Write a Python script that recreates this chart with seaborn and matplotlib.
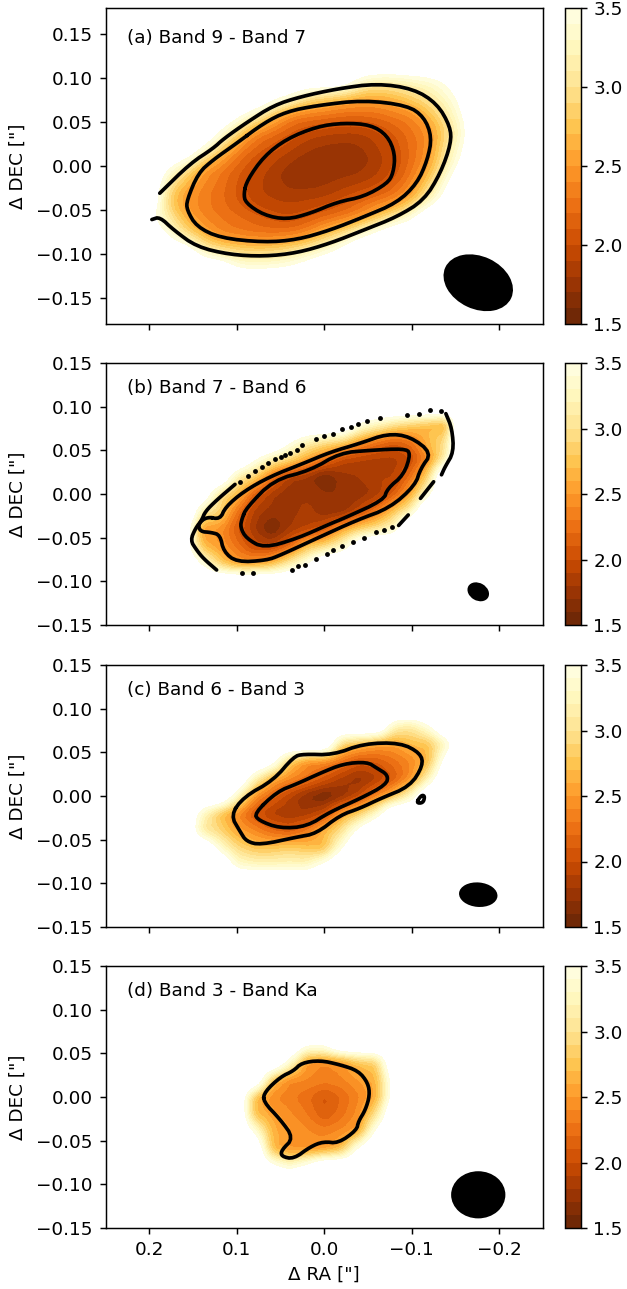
import numpy as np
import matplotlib
matplotlib.use("Agg")
import matplotlib.pyplot as plt
from matplotlib.patches import Ellipse
import seaborn as sns

O = 4.2  # pixels outside the map (above the colour range)

ra_a = [0.20, 0.18, 0.16, 0.14, 0.12, 0.10, 0.08, 0.06, 0.04, 0.02, 0.00, -0.02, -0.04, -0.06, -0.08, -0.10, -0.12, -0.14, -0.16]
dec_a = [0.10, 0.08, 0.06, 0.04, 0.02, 0.00, -0.02, -0.04, -0.06, -0.08, -0.10, -0.12]
index_a = [
    [O, O, O, O, O, O, O, O, O, O, O, O, 3.5, 3.3, 3.3, 3.37, 3.43, 3.6, 3.9],
    [O, O, O, O, O, O, O, 3.8, 3.55, 3.04, 2.9, 2.78, 2.65, 2.62, 2.71, 2.9, 3.1, 3.37, 3.7],
    [O, O, O, O, O, 3.75, 3.37, 2.84, 2.41, 2.34, 2.3, 2.23, 2.23, 2.26, 2.34, 2.41, 2.71, 3.1, 3.6],
    [O, O, O, O, 3.55, 2.97, 2.41, 2.26, 2.11, 1.99, 1.93, 1.9, 1.9, 1.97, 2.11, 2.26, 2.43, 2.9, 3.43],
    [O, O, O, 3.5, 2.9, 2.38, 2.15, 2.04, 1.92, 1.8, 1.75, 1.74, 1.75, 1.87, 2.0, 2.23, 2.43, 3.04, 3.55],
    [O, 3.65, 3.17, 2.58, 2.34, 2.15, 2.0, 1.87, 1.75, 1.72, 1.72, 1.72, 1.74, 1.83, 1.99, 2.23, 2.55, 3.17, 3.75],
    [O, 3.1, 2.65, 2.38, 2.26, 2.08, 1.93, 1.83, 1.75, 1.74, 1.76, 1.83, 1.87, 1.95, 2.11, 2.38, 2.84, 3.5, O],
    [O, 2.84, 2.47, 2.34, 2.23, 2.08, 1.95, 1.9, 1.88, 1.9, 1.93, 2.02, 2.15, 2.26, 2.38, 2.65, 3.23, 3.8, O],
    [3.6, 3.17, 2.65, 2.38, 2.3, 2.23, 2.15, 2.06, 2.0, 2.08, 2.19, 2.3, 2.43, 2.78, 3.1, 3.52, O, O, O],
    [O, 3.55, 3.04, 2.71, 2.41, 2.34, 2.3, 2.3, 2.34, 2.45, 2.78, 3.04, 3.47, 3.8, O, O, O, O, O],
    [O, O, O, 3.37, 3.17, 3.04, 2.97, 3.0, 3.1, 3.3, 3.48, 3.8, O, O, O, O, O, O, O],
    [O, O, O, O, O, 3.62, 3.62, 3.62, 3.7, 3.85, O, O, O, O, O, O, O, O, O],
]

ra_b = [0.16, 0.14, 0.12, 0.10, 0.08, 0.06, 0.04, 0.02, 0.00, -0.02, -0.04, -0.06, -0.08, -0.10, -0.12, -0.14, -0.16]
dec_b = [0.08, 0.06, 0.04, 0.02, 0.00, -0.02, -0.04, -0.06, -0.08, -0.10]
index_b = [
    [O, O, O, O, O, O, O, O, O, O, 3.5, 3.25, 3.0, 2.85, 2.7, 2.6, 4.8],
    [O, O, O, O, O, O, 3.6, 3.2, 3.0, 2.85, 2.5, 2.25, 2.1, 2.25, 2.7, 3.0, 4.8],
    [O, O, O, O, 3.6, 3.15, 2.9, 2.55, 2.25, 1.95, 1.88, 1.85, 1.85, 1.98, 2.45, 3.2, 4.8],
    [O, O, O, 3.15, 2.85, 2.25, 1.85, 1.75, 1.55, 1.75, 1.8, 1.9, 1.88, 2.25, 2.9, 4.5, O],
    [O, 4.0, 3.0, 2.7, 2.1, 1.82, 1.7, 1.78, 1.72, 1.7, 1.72, 1.82, 2.1, 2.6, 3.4, 4.5, O],
    [4.5, 3.1, 2.9, 2.25, 1.85, 1.75, 1.74, 1.85, 1.7, 1.7, 1.95, 2.28, 2.75, 3.2, 4.5, O, O],
    [4.0, 2.5, 2.45, 2.1, 1.8, 1.55, 1.8, 1.9, 2.05, 2.5, 2.8, 3.0, 3.3, 4.5, O, O, O],
    [3.9, 2.7, 2.5, 2.25, 1.95, 1.92, 2.15, 2.7, 2.9, 3.25, 4.0, 4.5, O, O, O, O, O],
    [O, 3.5, 2.85, 2.5, 2.5, 2.65, 3.1, 3.5, 4.2, O, O, O, O, O, O, O, O],
    [O, O, O, O, O, O, O, O, O, O, O, O, O, O, O, O, O],
]

ra_c = [0.16, 0.14, 0.12, 0.10, 0.08, 0.06, 0.04, 0.02, 0.00, -0.02, -0.04, -0.06, -0.08, -0.10, -0.12, -0.14, -0.16]
dec_c = [0.08, 0.06, 0.04, 0.02, 0.00, -0.02, -0.04, -0.06, -0.08]
index_c = [
    [O, O, O, O, O, O, O, O, O, O, O, O, 3.2, 3.1, 3.5, O, O],
    [O, O, O, O, O, O, O, O, O, 2.85, 2.7, 2.55, 2.52, 2.7, 2.75, 3.3, O],
    [O, O, O, O, O, 3.8, 2.8, 2.45, 2.4, 2.25, 2.05, 2.1, 2.25, 2.4, 2.7, 3.8, O],
    [O, O, O, O, 3.2, 2.6, 2.4, 2.25, 2.05, 1.85, 1.72, 1.85, 2.1, 2.45, 3.2, O, O],
    [O, O, O, 3.3, 2.45, 2.15, 1.9, 1.68, 1.55, 1.7, 1.95, 2.35, 2.7, 3.3, O, O, O],
    [O, 3.3, 2.75, 2.4, 2.05, 1.85, 1.8, 1.82, 1.98, 2.5, 2.8, 3.3, O, O, O, O, O],
    [O, 3.1, 2.9, 2.55, 2.4, 2.2, 2.1, 2.3, 2.65, 3.0, 3.7, O, O, O, O, O, O],
    [O, O, 3.4, 2.95, 2.75, 2.75, 2.85, 2.75, 2.7, 3.5, O, O, O, O, O, O, O],
    [O, O, O, 3.4, 3.3, 3.3, 3.3, 3.3, 3.7, O, O, O, O, O, O, O, O],
]

ra_d = [0.10, 0.08, 0.06, 0.04, 0.02, 0.00, -0.02, -0.04, -0.06, -0.08]
dec_d = [0.06, 0.04, 0.02, 0.00, -0.02, -0.04, -0.06, -0.08]
index_d = [
    [O, O, O, O, 3.6, 3.6, O, O, O, O],
    [O, O, O, 3.4, 2.45, 2.4, 2.45, 2.75, 2.85, O],
    [O, O, 2.75, 2.4, 2.4, 2.35, 2.38, 2.5, 2.65, 3.8],
    [O, 2.7, 2.4, 2.33, 2.22, 2.05, 2.2, 2.38, 2.6, 3.8],
    [O, 2.7, 2.55, 2.42, 2.3, 2.1, 2.25, 2.45, 3.0, O],
    [O, 3.5, 2.65, 2.52, 2.42, 2.35, 2.42, 2.55, 3.7, O],
    [O, O, 2.7, 2.45, 2.45, 2.5, 2.7, 3.7, O, O],
    [O, O, 3.7, 3.4, 3.7, O, O, O, O, O],
]

# black intensity contours (RA, DEC)
a_outer = [(0.188, -0.031), (0.153, 0.003), (0.127, 0.020), (0.115, 0.031), (0.088, 0.050), (0.058, 0.069), (0.027, 0.079), (-0.015, 0.088), (-0.060, 0.094), (-0.102, 0.088), (-0.129, 0.071), (-0.144, 0.045), (-0.145, 0.026), (-0.133, -0.008), (-0.114, -0.039), (-0.083, -0.058), (-0.045, -0.073), (-0.007, -0.088), (0.031, -0.099), (0.069, -0.103), (0.108, -0.101), (0.146, -0.092), (0.172, -0.073), (0.188, -0.058), (0.197, -0.061)]
a_middle = [(0.100, 0.026), (0.069, 0.049), (0.043, 0.062), (0.008, 0.069), (-0.045, 0.075), (-0.095, 0.069), (-0.114, 0.056), (-0.123, 0.033), (-0.118, 0.007), (-0.106, -0.020), (-0.083, -0.042), (-0.045, -0.058), (-0.007, -0.073), (0.031, -0.084), (0.069, -0.087), (0.119, -0.082), (0.146, -0.069), (0.157, -0.050), (0.157, -0.039), (0.144, -0.008), (0.127, 0.007), (0.100, 0.026)]
a_inner = [(0.092, -0.031), (0.088, -0.016), (0.069, 0.011), (0.043, 0.031), (0.008, 0.045), (-0.022, 0.049), (-0.053, 0.047), (-0.072, 0.035), (-0.081, 0.014), (-0.079, -0.008), (-0.072, -0.020), (-0.045, -0.035), (-0.015, -0.041), (0.016, -0.054), (0.043, -0.061), (0.069, -0.056), (0.090, -0.042), (0.092, -0.031)]

b_middle = [(0.134, -0.026), (0.119, -0.029), (0.113, -0.015), (0.092, 0.003), (0.062, 0.020), (0.024, 0.035), (-0.007, 0.048), (-0.041, 0.058), (-0.072, 0.069), (-0.098, 0.066), (-0.123, 0.047), (-0.110, 0.029), (-0.104, 0.010), (-0.075, -0.016), (-0.037, -0.030), (0.009, -0.051), (0.050, -0.070), (0.066, -0.076), (0.100, -0.078), (0.115, -0.066), (0.119, -0.047), (0.129, -0.044), (0.142, -0.043), (0.144, -0.034), (0.134, -0.026)]
b_inner = [(0.094, -0.028), (0.089, -0.016), (0.058, 0.016), (0.016, 0.027), (-0.018, 0.047), (-0.052, 0.050), (-0.091, 0.052), (-0.099, 0.047), (-0.091, 0.022), (-0.072, 0.006), (-0.068, -0.007), (-0.022, -0.028), (-0.007, -0.034), (0.031, -0.051), (0.069, -0.062), (0.089, -0.051), (0.096, -0.038), (0.094, -0.028)]
b_edge1 = [(0.123, -0.087), (0.138, -0.074), (0.146, -0.064), (0.153, -0.053), (0.147, -0.039), (0.140, -0.030), (0.136, -0.020), (0.123, -0.007), (0.102, 0.011)]
b_edge2 = [(-0.139, 0.092), (-0.146, 0.075), (-0.148, 0.048), (-0.138, 0.031), (-0.134, 0.022)]
b_edge3 = [(-0.125, 0.014), (-0.110, -0.005)]
b_edge4 = [(-0.096, -0.024), (-0.085, -0.036)]
b_dots_ra = [0.096, 0.087, 0.079, 0.071, 0.064, 0.056, 0.050, 0.045, 0.039, 0.031, 0.026, 0.010, 0.0, -0.010, -0.020, -0.030, -0.039, -0.049, -0.064, -0.094, -0.108, -0.121, -0.133, -0.077, -0.068, -0.059, -0.045, -0.033, -0.020, -0.010, -0.003, 0.009, 0.022, 0.030, 0.037, 0.082, 0.094]
b_dots_dec = [0.014, 0.021, 0.026, 0.031, 0.035, 0.040, 0.042, 0.045, 0.047, 0.050, 0.056, 0.063, 0.066, 0.069, 0.074, 0.077, 0.080, 0.084, 0.087, 0.090, 0.092, 0.096, 0.095, -0.038, -0.041, -0.044, -0.050, -0.055, -0.059, -0.064, -0.069, -0.074, -0.081, -0.083, -0.087, -0.090, -0.090]

c_outer = [(0.107, -0.022), (0.092, -0.001), (0.058, 0.018), (0.035, 0.045), (0.024, 0.048), (-0.010, 0.047), (-0.045, 0.060), (-0.087, 0.061), (-0.110, 0.049), (-0.113, 0.035), (-0.098, 0.011), (-0.064, -0.003), (-0.041, -0.014), (-0.018, -0.022), (0.009, -0.043), (0.031, -0.047), (0.073, -0.056), (0.089, -0.052), (0.096, -0.041), (0.107, -0.022)]
c_inner = [(0.080, -0.020), (0.054, 0.005), (0.031, 0.014), (0.005, 0.026), (-0.022, 0.037), (-0.049, 0.039), (-0.060, 0.032), (-0.073, 0.024), (-0.071, 0.013), (-0.041, -0.003), (-0.007, -0.018), (0.020, -0.035), (0.051, -0.037), (0.075, -0.028), (0.080, -0.020)]
c_small = [(-0.105, -0.008), (-0.111, 0.001), (-0.115, 0.0), (-0.113, -0.008), (-0.105, -0.008)]

d_outer = [(0.070, -0.005), (0.068, 0.006), (0.050, 0.023), (0.035, 0.030), (0.026, 0.039), (0.005, 0.042), (-0.018, 0.037), (-0.039, 0.030), (-0.050, 0.016), (-0.052, 0.002), (-0.047, -0.015), (-0.039, -0.028), (-0.037, -0.038), (-0.016, -0.053), (0.001, -0.051), (0.016, -0.057), (0.035, -0.071), (0.049, -0.068), (0.049, -0.061), (0.035, -0.047), (0.050, -0.026), (0.070, -0.005)]

# synthesized beams: centre RA, centre DEC, major, minor, angle
beam_a = (-0.176, -0.133, 0.083, 0.060, 25)
beam_b = (-0.176, -0.112, 0.026, 0.020, 30)
beam_c = (-0.176, -0.113, 0.044, 0.028, 5)
beam_d = (-0.176, -0.112, 0.062, 0.054, 0)

titles = ["(a) Band 9 - Band 7", "(b) Band 7 - Band 6", "(c) Band 6 - Band 3", "(d) Band 3 - Band Ka"]
dec_ticks = [-0.15, -0.10, -0.05, 0.00, 0.05, 0.10, 0.15]
ra_ticks = [0.2, 0.1, 0.0, -0.1, -0.2]
cbar_ticks = [1.5, 2.0, 2.5, 3.0, 3.5]
levels = np.arange(1.5, 3.55, 0.1)

sns.set_style("ticks", {"axes.edgecolor": "black", "xtick.color": "black", "ytick.color": "black",
                        "text.color": "black", "axes.labelcolor": "black"})
plt.rcParams["font.family"] = ["DejaVu Sans"]
plt.rcParams["font.size"] = 10
plt.rcParams["axes.linewidth"] = 0.8
plt.rcParams["xtick.labelsize"] = 10
plt.rcParams["ytick.labelsize"] = 10
plt.rcParams["axes.labelsize"] = 10
cmap = sns.color_palette("YlOrBr_r", as_cmap=True)

W, H, DPI = 627, 1289, 132
fig = plt.figure(figsize=(W / DPI, H / DPI), dpi=DPI)


def pad_axis(v):
    v = np.asarray(v, float)
    step = v[1] - v[0]
    return np.concatenate([[v[0] - step], v, [v[-1] + step]])


def refine(x, y, z, width, k=4):
    """Finer drawing grid for smooth contour edges, from the read-off map."""
    xf = np.linspace(x[0], x[-1], (len(x) - 1) * k + 1)
    yf = np.linspace(y[0], y[-1], (len(y) - 1) * k + 1)
    zf = np.array([np.interp(np.arange(len(xf)) / k, np.arange(len(x)), row) for row in z])
    zf = np.array([np.interp(np.arange(len(yf)) / k, np.arange(len(y)), col) for col in zf.T]).T
    box = np.ones(width) / width
    zf = np.apply_along_axis(lambda r: np.convolve(np.pad(r, width // 2, mode="edge"), box, mode="valid"), 0, zf)
    zf = np.apply_along_axis(lambda r: np.convolve(np.pad(r, width // 2, mode="edge"), box, mode="valid"), 1, zf)
    return xf, yf, zf


def smooth(points, closed, n=2):
    p = np.asarray(points, float)
    for _ in range(n):
        if closed:
            q = np.roll(p[:-1], -1, axis=0)
            a = 0.75 * p[:-1] + 0.25 * q
            b = 0.25 * p[:-1] + 0.75 * q
            p = np.empty((2 * len(a), 2))
            p[0::2], p[1::2] = a, b
            p = np.vstack([p, p[0]])
        else:
            a = 0.75 * p[:-1] + 0.25 * p[1:]
            b = 0.25 * p[:-1] + 0.75 * p[1:]
            m = np.empty((2 * len(a), 2))
            m[0::2], m[1::2] = a, b
            p = np.vstack([p[0], m, p[-1]])
    return p


def draw_line(ax, points, closed=True):
    p = smooth(points, closed)
    sns.lineplot(x=p[:, 0], y=p[:, 1], sort=False, estimator=None, color="black",
                 linewidth=2, ax=ax, legend=False)


def panel(top, bottom, ylim, ra, dec, field, lines, beam, title, last=False, width=3):
    ax = fig.add_axes([105.5 / W, 1 - bottom / H, 437.5 / W, (bottom - top) / H])
    cax = fig.add_axes([565 / W, 1 - bottom / H, 15.5 / W, (bottom - top) / H])
    z = np.pad(np.asarray(field, float), 1, constant_values=O)
    xf, yf, zf = refine(pad_axis(ra), pad_axis(dec), z, width)
    cs = ax.contourf(xf, yf, zf, levels=levels, cmap=cmap, vmin=1.5, vmax=3.5)
    for points, closed in lines:
        draw_line(ax, points, closed)
    ax.add_patch(Ellipse(beam[:2], beam[2], beam[3], angle=beam[4], facecolor="black", edgecolor="none"))
    ax.set_xlim(0.25, -0.25)
    ax.set_ylim(*ylim)
    ax.set_xticks(ra_ticks)
    ax.set_yticks(dec_ticks)
    ax.set_yticklabels([f"{t:.2f}".replace("-", "\u2212") for t in dec_ticks])
    ax.set_ylabel('\u0394 DEC ["]', labelpad=5.0)
    if last:
        ax.set_xticklabels([f"{t:.1f}".replace("-", "\u2212") for t in ra_ticks])
        ax.set_xlabel('\u0394 RA ["]')
    else:
        ax.set_xticklabels([])
    ax.text(0.05, 0.905, title, transform=ax.transAxes, ha="left", va="center", fontsize=10, color="black")
    cb = fig.colorbar(cs, cax=cax, ticks=cbar_ticks)
    cb.ax.set_yticklabels([f"{t:.1f}" for t in cbar_ticks])
    return ax


panel(8, 324, (-0.18, 0.18), ra_a, dec_a, index_a,
      [(a_outer, False), (a_middle, True), (a_inner, True)], beam_a, titles[0], width=5)
ax_b = panel(363, 625, (-0.15, 0.15), ra_b, dec_b, index_b,
             [(b_middle, True), (b_inner, True), (b_edge1, False), (b_edge2, False),
              (b_edge3, False), (b_edge4, False)], beam_b, titles[1])
sns.scatterplot(x=b_dots_ra, y=b_dots_dec, s=7, color="black", linewidth=0, ax=ax_b, legend=False)
panel(665, 927, (-0.15, 0.15), ra_c, dec_c, index_c,
      [(c_outer, True), (c_inner, True), (c_small, True)], beam_c, titles[2])
panel(966, 1228, (-0.15, 0.15), ra_d, dec_d, index_d,
      [(d_outer, True)], beam_d, titles[3], last=True)

fig.savefig("out.png", dpi=DPI)
